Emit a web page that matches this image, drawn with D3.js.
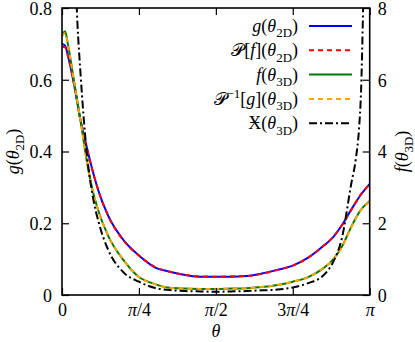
<!DOCTYPE html>
<html>
<head>
<meta charset="utf-8">
<script src="https://d3js.org/d3.v7.min.js"></script>
<style>
  body { margin: 0; background: #fff; }
  text { font-family: "Liberation Serif", "DejaVu Serif", serif; fill: #000; }
</style>
</head>
<body>
<div id="chart"></div>
<script>
// theta as a fraction of pi
const thetaFrac = [0, 0.01, 0.02, 0.04, 0.06, 0.08, 0.10, 0.12, 0.15, 0.20, 0.25, 0.30, 0.35, 0.40,
  0.45, 0.50, 0.55, 0.60, 0.65, 0.70, 0.75, 0.80, 0.85, 0.88, 0.91, 0.94, 0.97, 1.0];
// left axis units
const g2D = [0.700, 0.695, 0.665, 0.583, 0.487, 0.414, 0.345, 0.286, 0.221, 0.153, 0.110, 0.078, 0.065,
  0.056, 0.051, 0.051, 0.051, 0.053, 0.060, 0.070, 0.082, 0.104, 0.137, 0.160, 0.195, 0.238, 0.278, 0.310];
const pf2D = [0.692, 0.690, 0.664, 0.584, 0.488, 0.413, 0.344, 0.287, 0.221, 0.152, 0.110, 0.079, 0.065,
  0.056, 0.052, 0.051, 0.052, 0.053, 0.059, 0.070, 0.082, 0.104, 0.137, 0.161, 0.195, 0.237, 0.279, 0.308];
// right axis units
const f3D = [7.25, 7.35, 6.95, 5.92, 4.88, 3.77, 2.90, 2.30, 1.65, 0.97, 0.50, 0.31, 0.20, 0.18,
  0.17, 0.17, 0.18, 0.19, 0.22, 0.28, 0.37, 0.50, 0.75, 0.98, 1.35, 1.90, 2.36, 2.62];
const pg3D = [7.20, 7.30, 6.93, 5.90, 4.86, 3.76, 2.90, 2.30, 1.66, 0.98, 0.50, 0.31, 0.20, 0.18,
  0.17, 0.17, 0.18, 0.19, 0.22, 0.28, 0.37, 0.50, 0.76, 0.98, 1.34, 1.89, 2.35, 2.60];
const blackFrac = [0.03, 0.04, 0.045, 0.05, 0.06, 0.08, 0.10, 0.12, 0.15, 0.20, 0.25, 0.30, 0.35, 0.40,
  0.45, 0.50, 0.55, 0.60, 0.65, 0.70, 0.75, 0.80, 0.85, 0.88, 0.91, 0.94, 0.955, 0.965, 0.972, 0.98, 0.99];
const x3D = [13, 9.5, 8.6, 7.6, 6.2, 4.0, 2.75, 2.0, 1.26, 0.63, 0.37, 0.20, 0.14, 0.11,
  0.10, 0.09, 0.10, 0.11, 0.13, 0.15, 0.21, 0.33, 0.55, 0.90, 1.6, 3.1, 3.8, 4.6, 5.7, 8.5, 12];

const xTicks = [0, 0.25, 0.5, 0.75, 1];
const xTickLabels = ["0", "π/4", "π/2", "3π/4", "π"];
const yTicks = [0, 0.2, 0.4, 0.6, 0.8];
const y2Ticks = [0, 2, 4, 6, 8];
const legendLabels = ["g(θ_{2D})", "𝒫[f](θ_{2D})", "f(θ_{3D})", "𝒫^{−1}[g](θ_{3D})", "Ӿ(θ_{3D})"];

const W = 415, H = 342;
const pL = 62, pR = 369.7, pT = 8, pB = 295;

const svg = d3.select("#chart").append("svg").attr("width", W).attr("height", H);

const x = d3.scaleLinear([0, Math.PI], [pL, pR]);
const y = d3.scaleLinear([0, 0.8], [pB, pT]);
const y2 = d3.scaleLinear([0, 8], [pB, pT]);

// tiny markup: _{..} sub, ^{..} sup, letters italic
function mathText(sel, str, size) {
  let i = 0;
  let shift = 0;
  while (i < str.length) {
    const c = str[i];
    if ((c === "_" || c === "^") && str[i + 1] === "{") {
      const end = str.indexOf("}", i);
      const s = str.slice(i + 2, end);
      const dy = c === "_" ? size * 0.3 : -size * 0.4;
      sel.append("tspan").attr("dy", dy - shift).attr("font-size", size * 0.72).text(s);
      shift = dy;
      i = end + 1;
      continue;
    }
    const cp = str.codePointAt(i);
    const ch = String.fromCodePoint(cp);
    const ital = /[a-zθ]/u.test(ch);
    const t = sel.append("tspan").attr("font-size", size).text(ch);
    if (shift !== 0) { t.attr("dy", -shift); shift = 0; }
    if (ital) t.attr("font-style", "italic");
    i += ch.length;
  }
}

// clip
svg.append("clipPath").attr("id", "clip").append("rect")
  .attr("x", pL).attr("y", pT).attr("width", pR - pL).attr("height", pB - pT);

const plot = svg.append("g").attr("clip-path", "url(#clip)");

const lineL = d3.line().x((d) => x(d[0] * Math.PI)).y((d) => y(d[1])).curve(d3.curveMonotoneX);
const lineR = d3.line().x((d) => x(d[0] * Math.PI)).y((d) => y2(d[1])).curve(d3.curveMonotoneX);

const series = [
  {pts: d3.zip(thetaFrac, g2D), line: lineL, color: "#0000ff", dash: null},
  {pts: d3.zip(thetaFrac, pf2D), line: lineL, color: "#ff0000", dash: "5,4"},
  {pts: d3.zip(thetaFrac, f3D), line: lineR, color: "#007a00", dash: null},
  {pts: d3.zip(thetaFrac, pg3D), line: lineR, color: "#ffa500", dash: "5,4"},
  {pts: d3.zip(blackFrac, x3D), line: lineR, color: "#000000", dash: "8,3,2,3"}
];

series.forEach((s) => {
  plot.append("path").attr("d", s.line(s.pts)).attr("fill", "none")
    .attr("stroke", s.color).attr("stroke-width", 2)
    .attr("stroke-dasharray", s.dash);
});

// axes
const fs = 18;
const xAx = svg.append("g").attr("transform", `translate(0,${pB})`)
  .call(d3.axisBottom(x).tickValues(xTicks.map((d) => d * Math.PI))
    .tickSizeInner(-7).tickSizeOuter(0).tickPadding(8)
    .tickFormat((d, i) => xTickLabels[i]));
svg.append("g").attr("transform", `translate(0,${pT})`)
  .call(d3.axisTop(x).tickValues(xTicks.map((d) => d * Math.PI))
    .tickSizeInner(-7).tickSizeOuter(0).tickFormat(""));
const yAx = svg.append("g").attr("transform", `translate(${pL},0)`)
  .call(d3.axisLeft(y).tickValues(yTicks).tickSizeInner(-7).tickSizeOuter(0).tickPadding(10)
    .tickFormat((d) => d === 0 ? "0" : d3.format(".1f")(d)));
const y2Ax = svg.append("g").attr("transform", `translate(${pR},0)`)
  .call(d3.axisRight(y2).tickValues(y2Ticks).tickSizeInner(-7).tickSizeOuter(0).tickPadding(8));

svg.selectAll(".domain").remove();
svg.selectAll(".tick line").attr("stroke", "#000").attr("stroke-width", 1.2);
svg.selectAll(".tick text").attr("font-size", fs).attr("font-family", "Liberation Serif, serif");
yAx.selectAll(".tick text").attr("dy", "0.36em");
y2Ax.selectAll(".tick text").attr("dy", "0.36em");
xAx.selectAll(".tick text").each(function () {
  const t = d3.select(this);
  const s = t.text();
  t.text("");
  for (const ch of s) {
    const sp = t.append("tspan").text(ch);
    if (ch === "π") sp.attr("font-style", "italic");
  }
});

svg.append("rect").attr("x", pL).attr("y", pT).attr("width", pR - pL).attr("height", pB - pT)
  .attr("fill", "none").attr("stroke", "#000").attr("stroke-width", 1.6);

// axis labels
const yl = svg.append("text").attr("transform", `translate(19,${(pT + pB) / 2}) rotate(-90)`)
  .attr("text-anchor", "middle");
mathText(yl, "g(θ_{2D})", fs);
const yr = svg.append("text").attr("transform", `translate(408,${(pT + pB) / 2}) rotate(-90)`)
  .attr("text-anchor", "middle");
mathText(yr, "f(θ_{3D})", fs);
svg.append("text").attr("x", x(Math.PI / 2)).attr("y", 337).attr("text-anchor", "middle")
  .attr("font-size", fs).attr("font-style", "italic").text("θ");

// legend
const legTop = 26, legStep = 24.3;
series.forEach((s, i) => {
  const yy = legTop + i * legStep;
  const t = svg.append("text").attr("x", 298).attr("y", yy + 6).attr("text-anchor", "end");
  mathText(t, legendLabels[i], fs);
  svg.append("line").attr("x1", 309).attr("x2", 352).attr("y1", yy).attr("y2", yy)
    .attr("stroke", s.color).attr("stroke-width", 2).attr("stroke-dasharray", s.dash);
});
</script>
</body>
</html>
